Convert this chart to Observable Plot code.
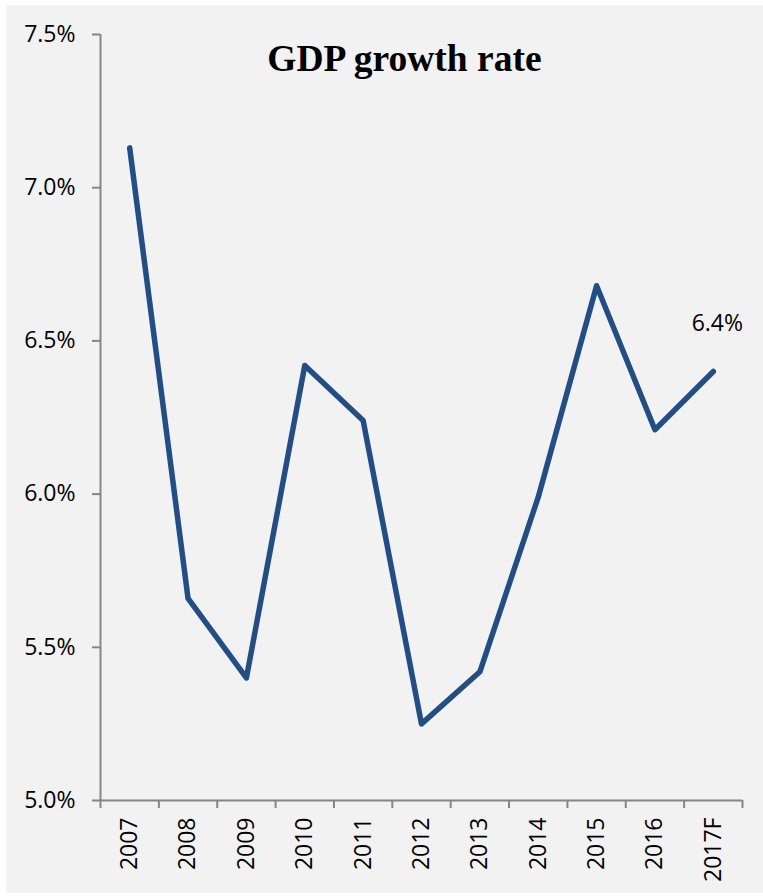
<!DOCTYPE html>
<html>
<head>
<meta charset="utf-8">
<script src="https://cdn.jsdelivr.net/npm/d3@7"></script>
<script src="https://cdn.jsdelivr.net/npm/@observablehq/plot@0.6"></script>
<style>
  html, body { margin: 0; padding: 0; background: #ffffff; }
  #chart { position: relative; width: 763px; height: 896px; }
  #chart svg { display: block; background: #f2f2f2; clip-path: inset(5px 0px 3px 6px); }
  #title { position: absolute; left: 0; width: 763px; top: 37px; text-align: center;
           font-family: "Liberation Serif", "Times New Roman", serif; font-weight: bold; font-size: 37.5px; color: #000; margin-left: 23px; }
</style>
</head>
<body>
<div id="chart"></div>
<script>
const years = ["2007", "2008", "2009", "2010", "2011", "2012", "2013", "2014", "2015", "2016", "2017F"];
const growth = [7.13, 5.66, 5.40, 6.42, 6.24, 5.25, 5.42, 5.99, 6.68, 6.21, 6.40];
const yTicks = [5.0, 5.5, 6.0, 6.5, 7.0, 7.5];
const title = "GDP growth rate";
const lastLabel = "6.4%";

const data = years.map((y, i) => ({i, year: y, value: growth[i]}));
const centers = years.map((_, i) => i);
const bounds = d3.range(years.length + 1).map(i => i - 0.5);
const axisColor = "#868686";
const font = "'Open Sans', 'Noto Sans', sans-serif";
const fs = 23;

const plot = Plot.plot({
  width: 763,
  height: 896,
  marginLeft: 100,
  marginRight: 21,
  marginTop: 34,
  marginBottom: 96,
  style: {fontFamily: font, fontSize: fs + "px", color: "#000", background: "#f2f2f2"},
  x: {type: "linear", domain: [-0.5, years.length - 0.5]},
  y: {domain: [5.0, 7.5]},
  marks: [
    Plot.axisY({ticks: yTicks, tickFormat: d => d.toFixed(1) + "%", tickSize: 8, tickPadding: 17, stroke: axisColor, strokeWidth: 2, fill: "#000", fontSize: fs, label: null}),
    Plot.axisX({ticks: bounds, tickFormat: () => "", tickSize: 8, stroke: axisColor, strokeWidth: 2, label: null}),
    Plot.axisX({ticks: centers, tickFormat: i => years[i], tickSize: 0, tickPadding: 17, tickRotate: -90, fill: "#000", fontSize: fs, label: null}),
    Plot.ruleX([-0.5], {stroke: axisColor, strokeWidth: 2}),
    Plot.ruleY([5.0], {stroke: axisColor, strokeWidth: 2}),
    Plot.line(data, {x: "i", y: "value", stroke: "#234e83", strokeWidth: 5.5, strokeLinejoin: "round", strokeLinecap: "round"}),
    Plot.text([data[data.length - 1]], {x: "i", y: "value", text: () => lastLabel, dy: -48, dx: 4, fontSize: fs, fill: "#000"})
  ]
});

const chart = document.getElementById("chart");
chart.appendChild(plot);
const t = document.createElement("div");
t.id = "title";
t.textContent = title;
chart.appendChild(t);
</script>
</body>
</html>
